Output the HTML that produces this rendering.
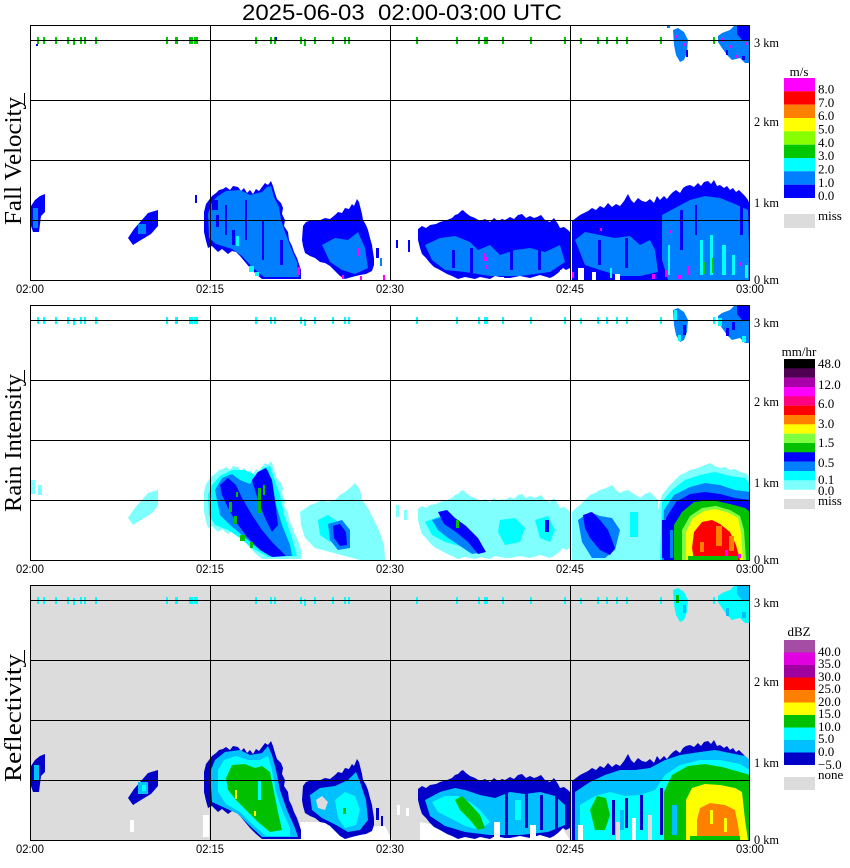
<!DOCTYPE html>
<html><head><meta charset="utf-8">
<style>html,body{margin:0;padding:0;background:#fff}svg{display:block}</style>
</head>
<body>
<svg width="850" height="868" viewBox="0 0 850 868" xmlns="http://www.w3.org/2000/svg" xmlns:xlink="http://www.w3.org/1999/xlink">
<defs>
<clipPath id="clip"><rect x="31" y="26" width="719" height="254"/></clipPath>
<polygon id="A" points="31,206 35,200 40,196 45,194 45,212 41,216 39,232 33,232 31,226"/>
<polygon id="B" points="128,238 134,229 141,221 148,213 158,210 158,226 151,234 141,240 133,245"/>
<polygon id="C" points="204,212 206,204 209,200 212,196 216,193 219,190 223,189 226,187 230,190 233,186 238,187 241,191 244,188 247,193 250,190 253,194 256,189 259,191 262,187 265,183 268,185 271,181 273,186 275,193 277,199 281,203 283,208 282,214 285,220 284,226 288,232 289,240 292,246 294,252 297,258 299,264 301,270 301,279 286,279 275,279 262,279 256,274 250,268 245,262 240,256 236,252 232,251 228,254 222,249 218,252 212,246 208,248 206,241 204,232 204,226"/>
<polygon id="D" points="303,226 306,222 312,220 318,221 325,218 330,219 335,215 338,212 342,213 345,208 349,209 352,204 354,206 357,199 359,202 360,206 362,214 363,220 366,225 368,230 370,238 372,245 373,252 374,258 374,265 372,271 366,274 360,275 352,277 345,279 340,276 335,271 330,266 325,263 320,262 315,258 310,256 305,253 303,246 302,240"/>
<polygon id="E" points="418,229 422,226 426,228 430,225 436,224 440,222 447,220 452,218 455,215 458,214 461,211 463,210 466,213 470,216 475,218 480,221 485,219 490,222 494,218 498,221 502,219 505,220 510,217 514,219 518,215 522,214 526,218 530,216 534,218 537,217 541,215 545,220 550,222 554,218 558,224 560,228 564,227 568,230 570,232 570,268 566,270 563,268 558,273 554,276 550,278 540,275 530,278 520,276 510,278 505,278 495,276 490,279 480,277 475,279 465,277 458,279 452,276 447,274 440,270 434,267 430,263 426,258 422,254 420,248 418,240"/>
<polygon id="F" points="572,221 576,218 580,215 584,213 588,211 592,208 596,210 600,206 604,208 608,203 612,207 616,204 620,206 624,201 628,194 631,200 634,203 638,198 642,201 646,202 650,199 654,203 657,196 660,200 664,196 667,199 670,195 673,192 676,190 680,193 683,188 686,186 690,185 694,187 698,183 701,186 704,182 708,181 711,184 714,180 717,186 720,185 724,188 727,186 730,190 733,188 736,192 739,190 742,193 745,196 748,200 750,205 750,280 572,280"/>
<polygon id="Ta" points="673,30 678,28 684,32 688,40 687,52 684,60 680,62 676,55 674,45"/>
<polygon id="Tb" points="718,36 722,33 730,30 735,25 750,25 750,63 745,63 740,58 732,60 727,55 722,48 718,42"/>
<g id="ticks">
<rect x="37" y="37" width="2" height="7"/><rect x="43" y="37" width="2" height="7"/><rect x="55" y="37" width="2" height="7"/><rect x="67" y="37" width="2" height="7"/><rect x="73" y="38" width="2" height="7"/><rect x="80" y="37" width="2" height="7"/><rect x="84" y="37" width="2" height="7"/><rect x="95" y="37" width="2" height="7"/><rect x="166" y="37" width="2" height="7"/><rect x="175" y="37" width="3" height="7"/><rect x="189" y="37" width="4" height="7"/><rect x="194" y="37" width="4" height="7"/><rect x="255" y="37" width="2" height="7"/><rect x="270" y="37" width="2" height="7"/><rect x="274" y="37" width="2" height="7"/><rect x="300" y="37" width="2" height="7"/><rect x="304" y="39" width="2" height="7"/><rect x="314" y="37" width="2" height="7"/><rect x="332" y="37" width="2" height="7"/><rect x="344" y="37" width="2" height="7"/><rect x="348" y="37" width="2" height="7"/><rect x="416" y="37" width="2" height="7"/><rect x="456" y="37" width="2" height="7"/><rect x="478" y="37" width="2" height="7"/><rect x="484" y="37" width="4" height="7"/><rect x="502" y="37" width="2" height="7"/><rect x="530" y="37" width="2" height="7"/><rect x="564" y="37" width="2" height="7"/><rect x="580" y="38" width="2" height="6"/><rect x="597" y="37" width="2" height="7"/><rect x="606" y="37" width="2" height="7"/><rect x="616" y="37" width="2" height="7"/><rect x="626" y="37" width="2" height="7"/><rect x="660" y="37" width="2" height="7"/><rect x="713" y="37" width="2" height="7"/>
</g>
<g id="frame" fill="none" stroke="#000" stroke-width="1">
<rect x="30.5" y="25.5" width="719" height="255"/>
<line x1="210.5" y1="25" x2="210.5" y2="281"/>
<line x1="390.5" y1="25" x2="390.5" y2="281"/>
<line x1="570.5" y1="25" x2="570.5" y2="281"/>
<line x1="30" y1="40.5" x2="750" y2="40.5"/>
<line x1="30" y1="100.5" x2="750" y2="100.5"/>
<line x1="30" y1="160.5" x2="750" y2="160.5"/>
<line x1="30" y1="220.5" x2="750" y2="220.5"/>
</g>
<g id="labels" font-family="Liberation Sans, sans-serif" font-size="12" fill="#000" text-anchor="middle">
<text x="30" y="293" textLength="28" lengthAdjust="spacingAndGlyphs">02:00</text>
<text x="210" y="293" textLength="28" lengthAdjust="spacingAndGlyphs">02:15</text>
<text x="390" y="293" textLength="28" lengthAdjust="spacingAndGlyphs">02:30</text>
<text x="570" y="293" textLength="28" lengthAdjust="spacingAndGlyphs">02:45</text>
<text x="750" y="293" textLength="28" lengthAdjust="spacingAndGlyphs">03:00</text>
</g>
<g id="km" font-family="Liberation Serif, serif" font-size="13" fill="#000">
<text x="754" y="47" textLength="25" lengthAdjust="spacingAndGlyphs">3 km</text>
<text x="754" y="126" textLength="25" lengthAdjust="spacingAndGlyphs">2 km</text>
<text x="754" y="207" textLength="25" lengthAdjust="spacingAndGlyphs">1 km</text>
<text x="754" y="284" textLength="25" lengthAdjust="spacingAndGlyphs">0 km</text>
</g>
</defs>

<!-- Title -->
<text x="242" y="20" font-family="Liberation Sans, sans-serif" font-size="22" textLength="320" lengthAdjust="spacingAndGlyphs">2025-06-03&#160;&#160;02:00-03:00 UTC</text>

<!-- ============ PANEL 1 : Fall Velocity ============ -->
<g>
<g clip-path="url(#clip)">
<use xlink:href="#ticks" fill="#00c800"/>
<rect x="36" y="44" width="2" height="2" fill="#0000ff"/>
<rect x="275" y="37" width="2" height="3" fill="#0000ff"/>
<rect x="667" y="25" width="3" height="3" fill="#0080ff"/>
<use xlink:href="#Ta" fill="#0080ff"/>
<rect x="675" y="35" width="2" height="3" fill="#ff00ff"/><rect x="683" y="43" width="2" height="3" fill="#ff00ff"/><rect x="686" y="50" width="2" height="7" fill="#0000ff"/>
<use xlink:href="#Tb" fill="#0080ff"/>
<polygon points="737,25 750,25 750,40 742,40 737,34" fill="#0000ff"/>
<rect x="722" y="38" width="2" height="4" fill="#ff00ff"/><rect x="730" y="45" width="2" height="3" fill="#ff00ff"/><rect x="745" y="42" width="2" height="3" fill="#ff00ff"/><rect x="735" y="55" width="2" height="3" fill="#ff00ff"/><rect x="726" y="50" width="2" height="5" fill="#0000ff"/><rect x="742" y="56" width="3" height="4" fill="#0000ff"/>

<use xlink:href="#A" fill="#0000ff"/>
<rect x="33" y="208" width="5" height="20" fill="#0080ff"/>
<use xlink:href="#B" fill="#0000ff"/>
<rect x="138" y="224" width="8" height="10" fill="#0080ff"/>
<rect x="195" y="195" width="2" height="8" fill="#0000ff"/>

<use xlink:href="#C" fill="#0000ff"/>
<polygon points="208,214 212,202 218,196 226,191 240,190 250,195 262,192 267,187 271,186 274,197 279,207 281,220 285,232 291,248 297,262 299,277 264,277 252,267 242,256 232,249 216,244 209,238" fill="#0080ff"/>
<rect x="225" y="205" width="2" height="30" fill="#0000ff"/><rect x="245" y="200" width="2" height="40" fill="#0000ff"/><rect x="262" y="220" width="2" height="40" fill="#0000ff"/><rect x="232" y="230" width="3" height="15" fill="#0000ff"/><rect x="216" y="215" width="3" height="12" fill="#0000ff"/><rect x="212" y="200" width="6" height="10" fill="#0000ff"/><rect x="280" y="240" width="3" height="25" fill="#0000ff"/>
<rect x="236" y="236" width="3" height="10" fill="#00ffff"/><rect x="249" y="266" width="5" height="6" fill="#00ffff"/><rect x="255" y="272" width="4" height="4" fill="#00ffff"/>
<rect x="298" y="267" width="2" height="8" fill="#ff00ff"/>

<use xlink:href="#D" fill="#0000ff"/>
<polygon points="322,245 335,238 348,240 358,232 365,248 368,268 355,274 342,270 330,262" fill="#0080ff"/>
<rect x="357" y="248" width="2" height="8" fill="#ff00ff"/><rect x="342" y="275" width="2" height="4" fill="#ff00ff"/><rect x="360" y="276" width="2" height="4" fill="#ff00ff"/>
<rect x="376" y="248" width="3" height="10" fill="#0000ff"/><rect x="380" y="258" width="2" height="8" fill="#0080ff"/><rect x="383" y="275" width="2" height="5" fill="#ff00ff"/>
<rect x="396" y="240" width="2" height="8" fill="#0000ff"/><rect x="408" y="240" width="2" height="12" fill="#0000ff"/>

<use xlink:href="#E" fill="#0000ff"/>
<polygon points="425,245 440,238 455,236 470,242 478,250 490,245 500,255 515,250 530,248 545,252 560,245 565,262 550,272 520,276 490,276 465,272 445,270 432,260" fill="#0080ff"/>
<rect x="470" y="248" width="3" height="25" fill="#0000ff"/><rect x="510" y="245" width="3" height="25" fill="#0000ff"/><rect x="538" y="250" width="3" height="20" fill="#0000ff"/><rect x="452" y="250" width="3" height="18" fill="#0000ff"/>
<rect x="483" y="253" width="2" height="6" fill="#ff00ff"/><rect x="485" y="265" width="2" height="4" fill="#ff00ff"/><rect x="484" y="257" width="3" height="4" fill="#ff00ff"/>
<rect x="425" y="272" width="10" height="8" fill="#ffffff"/><rect x="560" y="270" width="10" height="10" fill="#ffffff"/><rect x="500" y="277" width="4" height="3" fill="#ffffff"/>

<use xlink:href="#F" fill="#0000ff"/>
<polygon points="575,240 585,232 600,235 615,238 630,236 640,245 650,240 655,250 658,272 640,276 620,276 600,270 585,265" fill="#0080ff"/>
<polygon points="662,215 675,208 690,200 705,196 720,198 735,204 748,210 750,280 735,280 700,280 668,280 662,260" fill="#0080ff"/>
<rect x="680" y="210" width="3" height="40" fill="#0000ff"/><rect x="695" y="205" width="2" height="30" fill="#0000ff"/><rect x="740" y="205" width="3" height="30" fill="#0000ff"/><rect x="658" y="225" width="3" height="50" fill="#0000ff"/><rect x="598" y="240" width="3" height="25" fill="#0000ff"/><rect x="625" y="238" width="3" height="30" fill="#0000ff"/>
<rect x="700" y="240" width="3" height="35" fill="#00ffff"/><rect x="710" y="235" width="3" height="40" fill="#00ffff"/><rect x="722" y="245" width="4" height="30" fill="#00ffff"/><rect x="732" y="255" width="3" height="20" fill="#00ffff"/><rect x="745" y="265" width="3" height="13" fill="#00ffff"/><rect x="668" y="245" width="2" height="30" fill="#00ffff"/><rect x="610" y="268" width="2" height="10" fill="#00ffff"/>
<rect x="703" y="262" width="2" height="12" fill="#00c800"/><rect x="712" y="258" width="2" height="15" fill="#00c800"/>
<rect x="665" y="270" width="2" height="7" fill="#ff00ff"/><rect x="678" y="275" width="3" height="4" fill="#ff00ff"/><rect x="688" y="266" width="2" height="9" fill="#ff00ff"/><rect x="740" y="262" width="2" height="4" fill="#ff00ff"/><rect x="670" y="230" width="2" height="3" fill="#ff00ff"/><rect x="652" y="274" width="3" height="5" fill="#ff00ff"/><rect x="572" y="272" width="2" height="6" fill="#ff00ff"/><rect x="600" y="228" width="2" height="3" fill="#ff00ff"/>
<rect x="578" y="268" width="6" height="12" fill="#ffffff"/><rect x="592" y="272" width="4" height="8" fill="#ffffff"/><rect x="615" y="274" width="5" height="6" fill="#ffffff"/>
</g>
<use xlink:href="#frame"/>
<use xlink:href="#labels"/>
<use xlink:href="#km"/>
<text transform="translate(21,161) rotate(-90)" font-family="Liberation Serif, serif" font-size="24" text-anchor="middle" textLength="128" lengthAdjust="spacingAndGlyphs">Fall Velocity</text>
<line x1="24.5" y1="93" x2="24.5" y2="106" stroke="#000" stroke-width="1"/>

<!-- legend -->
<g>
<rect x="784" y="78" width="31" height="13.4" fill="#ff00ff"/>
<rect x="784" y="91.3" width="31" height="13.4" fill="#ff0000"/>
<rect x="784" y="104.7" width="31" height="13.4" fill="#ff8000"/>
<rect x="784" y="118" width="31" height="13.4" fill="#ffff00"/>
<rect x="784" y="131.3" width="31" height="13.4" fill="#88ff00"/>
<rect x="784" y="144.7" width="31" height="13.4" fill="#00c800"/>
<rect x="784" y="158" width="31" height="13.4" fill="#00ffff"/>
<rect x="784" y="171.3" width="31" height="13.4" fill="#0080ff"/>
<rect x="784" y="184.7" width="31" height="13.3" fill="#0000ff"/>
<rect x="784" y="214" width="31" height="14" fill="#dcdcdc"/>
<g font-family="Liberation Serif, serif" font-size="13">
<text x="799" y="76" text-anchor="middle">m/s</text>
<text x="818" y="93.5">8.0</text><text x="818" y="106.8">7.0</text><text x="818" y="120">6.0</text><text x="818" y="133.5">5.0</text><text x="818" y="146.8">4.0</text><text x="818" y="160">3.0</text><text x="818" y="173.5">2.0</text><text x="818" y="186.8">1.0</text><text x="818" y="200">0.0</text><text x="818" y="220">miss</text>
</g>
</g>
</g>

<!-- ============ PANEL 2 : Rain Intensity ============ -->
<g transform="translate(0,280)">
<g clip-path="url(#clip)">
<use xlink:href="#ticks" fill="#00ffff"/>
<use xlink:href="#Ta" fill="#0080ff"/>
<rect x="674" y="30" width="3" height="10" fill="#00ffff"/><rect x="683" y="45" width="3" height="10" fill="#0000ff"/><rect x="678" y="55" width="3" height="6" fill="#00ffff"/>
<use xlink:href="#Tb" fill="#0080ff"/>
<polygon points="737,25 750,25 750,40 742,40 737,34" fill="#0000ff"/>
<rect x="718" y="38" width="4" height="8" fill="#00ffff"/><rect x="726" y="48" width="3" height="8" fill="#0000ff"/><rect x="742" y="56" width="4" height="6" fill="#00ffff"/><rect x="732" y="42" width="3" height="8" fill="#0000ff"/>

<rect x="31" y="200" width="4" height="14" fill="#80ffff"/><rect x="38" y="205" width="4" height="10" fill="#80ffff"/>
<use xlink:href="#B" fill="#80ffff"/>

<use xlink:href="#C" fill="#80ffff"/>
<polygon points="208,215 212,205 220,196 232,190 245,190 255,195 263,188 270,186 274,198 280,215 284,235 292,258 297,276 268,277 252,268 240,258 228,250 215,245 209,235" fill="#00ffff"/>
<polygon points="215,210 222,198 232,194 240,200 250,204 258,192 268,190 272,205 276,225 282,245 290,265 292,276 270,276 255,266 242,255 230,245 220,235" fill="#0080ff"/>
<polygon points="220,205 228,198 236,205 242,218 252,235 262,250 272,262 286,276 272,277 260,270 248,258 236,242 228,228 222,215" fill="#0000ff"/>
<polygon points="252,200 258,192 266,188 272,200 275,220 278,245 272,252 265,238 258,220" fill="#0000ff"/>
<rect x="229" y="222" width="3" height="10" fill="#00c000"/><rect x="234" y="236" width="3" height="8" fill="#00c000"/><rect x="240" y="255" width="5" height="6" fill="#00c000"/><rect x="258" y="208" width="3" height="25" fill="#00c000"/><rect x="263" y="205" width="2" height="10" fill="#00c000"/><rect x="250" y="262" width="3" height="6" fill="#00c000"/><rect x="236" y="212" width="2" height="5" fill="#00c000"/>

<polygon points="300,232 306,228 310,225 316,223 322,220 328,222 335,220 340,215 345,212 350,208 355,203 358,207 360,210 362,220 366,225 370,232 374,240 378,248 381,256 384,265 385,280 360,280 345,276 330,272 315,268 305,258 301,245" fill="#80ffff"/>
<polygon points="318,240 328,235 338,242 340,255 330,262 320,255" fill="#00ffff"/>
<polygon points="328,244 342,240 350,250 350,268 338,270 330,260" fill="#0080ff"/>
<polygon points="333,246 340,244 346,252 347,265 340,266 334,258" fill="#0000ff"/>
<rect x="396" y="225" width="3" height="12" fill="#80ffff"/><rect x="404" y="230" width="3" height="10" fill="#80ffff"/>

<use xlink:href="#E" fill="#80ffff"/>
<polygon points="425,242 440,236 455,238 465,245 470,258 460,266 445,262 432,255" fill="#00ffff"/>
<polygon points="500,240 515,238 525,248 520,262 505,265 498,252" fill="#00ffff"/>
<polygon points="535,240 548,236 555,250 550,262 540,258" fill="#00ffff"/>
<polygon points="432,240 445,236 458,240 470,250 478,262 484,272 472,274 460,266 448,258 438,250" fill="#0080ff"/>
<polygon points="438,232 447,230 455,238 466,246 478,258 486,272 478,274 468,262 456,252 444,244" fill="#0000ff"/>
<rect x="456" y="240" width="3" height="8" fill="#00c000"/>
<rect x="545" y="240" width="4" height="12" fill="#0000ff"/>

<polygon points="572,232 576,228 580,225 585,220 590,215 595,213 600,210 606,208 612,205 616,210 620,213 624,211 628,210 634,214 640,218 645,214 650,212 654,216 658,220 658,280 572,280" fill="#80ffff"/>
<polygon points="578,240 590,232 600,236 612,238 620,250 615,270 605,278 592,278 582,262" fill="#0080ff"/>
<polygon points="583,235 592,232 600,240 608,250 615,268 610,275 600,270 590,258 585,248" fill="#0000ff"/>
<rect x="630" y="232" width="8" height="25" fill="#00ffff"/>

<polygon points="658,230 662,215 666,210 670,205 675,200 680,195 685,193 690,190 695,189 700,187 705,185 710,183 715,186 720,188 725,187 730,190 735,189 740,192 745,193 748,195 750,200 750,280 658,280" fill="#80ffff"/>
<polygon points="662,222 672,210 685,200 700,195 715,192 730,196 745,198 750,204 750,280 660,280" fill="#00ffff"/>
<polygon points="664,230 674,215 690,207 705,203 720,205 735,210 750,212 750,280 662,280" fill="#0080ff"/>
<polygon points="666,238 676,222 690,214 705,212 720,214 735,218 750,220 750,280 664,280" fill="#0000ff"/>
<polygon points="674,245 682,232 694,222 712,220 730,224 745,228 750,232 750,280 674,280" fill="#00c000"/>
<polygon points="682,250 690,236 702,228 716,226 730,230 740,236 744,250 746,280 682,280" fill="#80ff40"/>
<polygon points="686,252 693,238 704,231 716,229 729,233 738,238 741,252 743,280 686,280" fill="#ffff00"/>
<polygon points="692,268 694,252 702,242 712,240 720,244 730,252 736,265 740,280 694,280" fill="#ff0000"/>
<rect x="716" y="246" width="6" height="20" fill="#ff8000"/><rect x="729" y="256" width="5" height="15" fill="#ff8000"/><rect x="700" y="262" width="4" height="10" fill="#ff8000"/>
<rect x="725" y="270" width="3" height="6" fill="#ff00ff"/><rect x="738" y="274" width="3" height="4" fill="#ff00ff"/>
<rect x="662" y="240" width="6" height="38" fill="#0000ff"/><rect x="670" y="250" width="3" height="28" fill="#0080ff"/>
<rect x="688" y="276" width="50" height="4" fill="#00c000"/>
</g>
<use xlink:href="#frame"/>
<use xlink:href="#labels"/>
<use xlink:href="#km"/>
<text transform="translate(21,163) rotate(-90)" font-family="Liberation Serif, serif" font-size="24" text-anchor="middle" textLength="138" lengthAdjust="spacingAndGlyphs">Rain Intensity</text>
<line x1="24.5" y1="90" x2="24.5" y2="103" stroke="#000" stroke-width="1"/>
</g>
<!-- rain legend (absolute) -->
<g>
<rect x="784" y="359" width="31" height="9.5" fill="#000000"/>
<rect x="784" y="368.3" width="31" height="9.5" fill="#500050"/>
<rect x="784" y="377.7" width="31" height="9.5" fill="#aa00aa"/>
<rect x="784" y="387" width="31" height="9.5" fill="#ff00ff"/>
<rect x="784" y="396.3" width="31" height="9.5" fill="#ff0080"/>
<rect x="784" y="405.7" width="31" height="9.5" fill="#ff0000"/>
<rect x="784" y="415" width="31" height="9.5" fill="#ff8000"/>
<rect x="784" y="424.3" width="31" height="9.5" fill="#ffff00"/>
<rect x="784" y="433.7" width="31" height="9.5" fill="#80ff40"/>
<rect x="784" y="443" width="31" height="9.5" fill="#00c000"/>
<rect x="784" y="452.3" width="31" height="9.5" fill="#0000ff"/>
<rect x="784" y="461.7" width="31" height="9.5" fill="#0080ff"/>
<rect x="784" y="471" width="31" height="9.5" fill="#00ffff"/>
<rect x="784" y="480.3" width="31" height="9.4" fill="#80ffff"/>
<rect x="784" y="499" width="31" height="10" fill="#dcdcdc"/>
<g font-family="Liberation Serif, serif" font-size="13">
<text x="799" y="356" text-anchor="middle">mm/hr</text>
<text x="818" y="368">48.0</text><text x="818" y="389">12.0</text><text x="818" y="408">6.0</text><text x="818" y="428">3.0</text><text x="818" y="447">1.5</text><text x="818" y="467">0.5</text><text x="818" y="484">0.1</text><text x="818" y="495">0.0</text><text x="818" y="505">miss</text>
</g>
</g>

<!-- ============ PANEL 3 : Reflectivity ============ -->
<g transform="translate(0,560)">
<g clip-path="url(#clip)">
<rect x="30" y="25" width="720" height="255" fill="#dcdcdc"/>
<polygon points="300,262 330,262 345,268 385,266 392,280 300,280" fill="#ffffff"/>
<polygon points="420,262 440,266 470,262 520,266 560,264 570,280 420,280" fill="#ffffff"/>
<polygon points="572,262 600,268 640,268 660,270 660,280 572,280" fill="#ffffff"/>
<rect x="130" y="260" width="4" height="12" fill="#ffffff"/><rect x="203" y="255" width="6" height="22" fill="#ffffff"/><rect x="355" y="215" width="3" height="6" fill="#ffffff"/>
<rect x="397" y="245" width="3" height="10" fill="#ffffff"/><rect x="406" y="248" width="3" height="8" fill="#ffffff"/>

<use xlink:href="#ticks" fill="#00ffff"/>
<use xlink:href="#Ta" fill="#00ffff"/>
<rect x="676" y="35" width="3" height="8" fill="#00c000"/><rect x="683" y="45" width="3" height="8" fill="#00c0ff"/>
<use xlink:href="#Tb" fill="#00ffff"/>
<polygon points="737,25 750,25 750,40 742,40 737,34" fill="#00c0ff"/>
<rect x="726" y="48" width="3" height="8" fill="#00c0ff"/><rect x="742" y="52" width="4" height="6" fill="#00c0ff"/>

<use xlink:href="#A" fill="#0000c8"/>
<rect x="34" y="205" width="5" height="16" fill="#00c0ff"/>
<use xlink:href="#B" fill="#0000c8"/>
<rect x="138" y="222" width="10" height="12" fill="#00c0ff"/><rect x="142" y="225" width="4" height="6" fill="#00ffff"/>

<use xlink:href="#C" fill="#0000c8"/>
<polygon points="210,212 215,200 225,192 240,190 250,195 262,193 268,186 272,195 276,210 280,230 287,250 295,268 298,277 262,277 250,266 238,254 225,248 212,242" fill="#00c0ff"/>
<polygon points="218,210 224,200 236,196 248,200 260,200 268,196 272,210 276,232 282,250 290,268 290,276 266,276 252,264 240,252 226,244 218,232" fill="#00ffff"/>
<polygon points="226,218 232,205 245,204 255,208 262,206 270,212 274,232 278,252 282,270 270,272 258,262 246,250 236,240 228,230" fill="#00c000"/>
<rect x="235" y="230" width="2" height="9" fill="#ffff00"/><rect x="254" y="251" width="2" height="5" fill="#ffff00"/><rect x="258" y="220" width="3" height="20" fill="#00ffff"/>

<use xlink:href="#D" fill="#0000c8"/>
<polygon points="310,235 320,228 335,226 348,220 356,212 360,222 366,240 368,260 360,270 348,272 336,265 322,258 312,250" fill="#00c0ff"/>
<polygon points="335,240 345,232 355,236 360,250 356,265 345,268 338,258" fill="#00ffff"/>
<rect x="343" y="248" width="3" height="6" fill="#00c000"/>
<polygon points="316,240 322,236 328,242 325,250 318,248" fill="#dcdcdc"/>
<rect x="376" y="248" width="3" height="12" fill="#0000c8"/><rect x="381" y="256" width="2" height="10" fill="#0000c8"/>

<use xlink:href="#E" fill="#0000c8"/>
<polygon points="425,240 440,232 455,228 465,230 480,235 495,238 510,232 525,234 540,232 555,236 565,245 565,265 548,272 520,275 490,275 465,272 445,266 430,256" fill="#00c0ff"/>
<polygon points="432,242 445,236 458,236 470,242 480,250 490,262 480,270 465,266 450,258 438,252" fill="#00ffff"/>
<polygon points="455,240 462,236 470,244 480,255 485,268 478,270 470,260 460,250" fill="#00c000"/>
<rect x="505" y="230" width="3" height="45" fill="#0000c8"/><rect x="525" y="228" width="3" height="40" fill="#0000c8"/><rect x="540" y="235" width="3" height="35" fill="#0000c8"/><rect x="555" y="230" width="3" height="40" fill="#0000c8"/>
<rect x="515" y="240" width="6" height="20" fill="#00ffff"/>
<rect x="494" y="262" width="6" height="18" fill="#ffffff"/><rect x="530" y="265" width="6" height="15" fill="#ffffff"/>

<use xlink:href="#F" fill="#0000c8"/>
<polygon points="575,232 590,222 605,215 620,210 635,210 650,208 665,200 680,195 700,192 715,190 730,193 745,196 750,200 750,280 575,280" fill="#00c0ff"/>
<polygon points="580,245 595,236 610,232 625,236 640,235 655,230 665,215 680,205 700,200 720,200 740,204 750,210 750,280 580,280" fill="#00ffff"/>
<polygon points="590,250 597,236 606,238 610,255 605,270 595,270" fill="#00c000"/>
<polygon points="664,232 672,215 688,206 705,204 722,207 740,212 750,215 750,280 664,280" fill="#00c000"/>
<polygon points="686,240 692,228 705,224 720,225 735,228 742,232 745,260 748,280 686,280" fill="#ffff00"/>
<polygon points="697,260 700,248 710,243 725,245 735,250 738,265 740,280 697,280" fill="#ff8000"/>
<rect x="710" y="250" width="3" height="14" fill="#ffff00"/><rect x="724" y="258" width="3" height="14" fill="#ffff00"/>
<rect x="660" y="228" width="3" height="47" fill="#0000c8"/><rect x="612" y="240" width="3" height="35" fill="#0000c8"/><rect x="625" y="238" width="3" height="30" fill="#0000c8"/><rect x="640" y="235" width="3" height="35" fill="#0000c8"/><rect x="620" y="250" width="4" height="20" fill="#00c0ff"/>
<rect x="672" y="245" width="5" height="30" fill="#00c0ff"/><rect x="690" y="276" width="50" height="4" fill="#00c000"/>
<rect x="616" y="262" width="4" height="18" fill="#dcdcdc"/><rect x="632" y="258" width="4" height="22" fill="#ffffff"/><rect x="648" y="255" width="4" height="25" fill="#dcdcdc"/><rect x="578" y="265" width="5" height="15" fill="#ffffff"/>
</g>
<use xlink:href="#frame"/>
<use xlink:href="#labels"/>
<use xlink:href="#km"/>
<text transform="translate(21,158) rotate(-90)" font-family="Liberation Serif, serif" font-size="24" text-anchor="middle" textLength="128" lengthAdjust="spacingAndGlyphs">Reflectivity</text>
<line x1="24.5" y1="90" x2="24.5" y2="103" stroke="#000" stroke-width="1"/>
</g>
<!-- refl legend (absolute) -->
<g>
<rect x="784" y="640" width="31" height="12.6" fill="#a54ca5"/>
<rect x="784" y="652.5" width="31" height="12.6" fill="#e000e0"/>
<rect x="784" y="665" width="31" height="12.6" fill="#a000a0"/>
<rect x="784" y="677.5" width="31" height="12.6" fill="#ff0000"/>
<rect x="784" y="690" width="31" height="12.6" fill="#ff8000"/>
<rect x="784" y="702.5" width="31" height="12.6" fill="#ffff00"/>
<rect x="784" y="715" width="31" height="12.6" fill="#00c000"/>
<rect x="784" y="727.5" width="31" height="12.6" fill="#00ffff"/>
<rect x="784" y="740" width="31" height="12.6" fill="#00c0ff"/>
<rect x="784" y="752.5" width="31" height="12.5" fill="#0000c8"/>
<rect x="784" y="777" width="31" height="13" fill="#dcdcdc"/>
<g font-family="Liberation Serif, serif" font-size="13">
<text x="799" y="636" text-anchor="middle">dBZ</text>
<text x="818" y="656">40.0</text><text x="818" y="668">35.0</text><text x="818" y="681">30.0</text><text x="818" y="693">25.0</text><text x="818" y="706">20.0</text><text x="818" y="718">15.0</text><text x="818" y="731">10.0</text><text x="818" y="743">5.0</text><text x="818" y="756">0.0</text><text x="818" y="769">−5.0</text><text x="818" y="779">none</text>
</g>
</g>
</svg>
</body></html>
